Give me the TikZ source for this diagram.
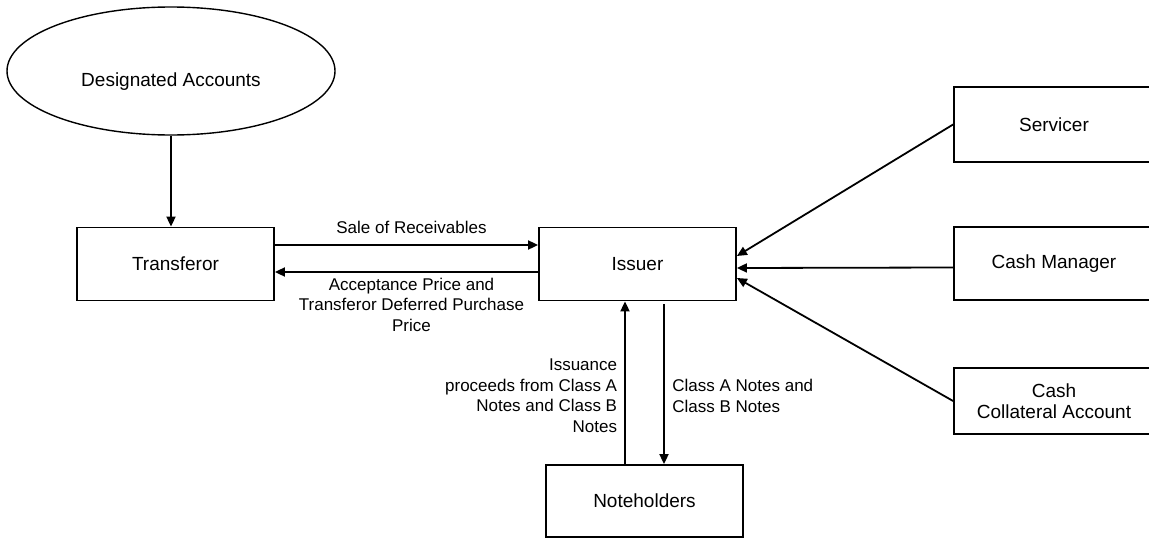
\documentclass[tikz,border=0pt]{standalone}
\usepackage{fontspec}
\setmainfont{Liberation Sans}
\usetikzlibrary{shapes.geometric,arrows.meta,positioning}

\begin{document}
\begin{tikzpicture}[x=1pt, y=-1pt, line width=1.8pt,
    party/.style={draw, rectangle, minimum width=197pt, minimum height=73pt, align=center, font=\fontsize{19}{21}\selectfont},
    flow/.style={-{Triangle[length=10pt,width=9pt]}},
    lbl/.style={inner sep=0pt, font=\fontsize{17}{20.5}\selectfont}]
    \useasboundingbox (0,0) rectangle (1149,538);
    \clip (0,0) rectangle (1149,538);

    \node[draw, ellipse, minimum width=328pt, minimum height=128pt, line width=1.4pt,
        label={[font=\fontsize{19}{21}\selectfont, yshift=-11pt]center:Designated Accounts}] (acct) at (171,71) {};

    \node[party] (tr) at (175.5,264) {Transferor};
    \node[party] (iss) at (637.5,264) {Issuer};
    \node[party, minimum height=72pt] (nh) at (644.5,501) {Noteholders};
    \node[party, minimum width=200pt, minimum height=75pt] (sv) at (1054,124.5) {Servicer};
    \node[party, minimum width=200pt] (cm) at (1054,263.5) {Cash Manager};
    \node[party, minimum width=200pt, minimum height=66pt] (cc) at (1054,401) {Cash\\Collateral Account};

    \draw[flow] (acct.south) -- (acct.south |- tr.north);

    \draw[flow] ([yshift=19pt]tr.east) -- node[lbl, above=10pt, xshift=5pt] {Sale of Receivables} ([yshift=19pt]iss.west);
    \draw[flow] ([yshift=-8pt]iss.west) -- node[lbl, below=5pt, xshift=5pt, align=center] {Acceptance Price and\\Transferor Deferred Purchase\\Price} ([yshift=-8pt]tr.east);

    \draw[flow] ([xshift=-19.5pt]nh.north) -- node[lbl, pos=0.42, left=7pt, align=right] {Issuance\\proceeds from Class A\\Notes and Class B\\Notes} ([xshift=-19.5pt]nh.north |- iss.south);
    \draw[flow, shorten <=3pt] ([xshift=19.5pt]nh.north |- iss.south) -- node[lbl, pos=0.58, right=7.5pt, align=left] {Class A Notes and\\Class B Notes} ([xshift=19.5pt]nh.north);

    \draw[flow] (sv.west) -- ([yshift=8pt]iss.east);
    \draw[flow] ([yshift=-4pt]cm.west) -- ([yshift=-4pt]iss.east);
    \draw[flow] (cc.west) -- ([yshift=-14pt]iss.east);
\end{tikzpicture}
\end{document}
